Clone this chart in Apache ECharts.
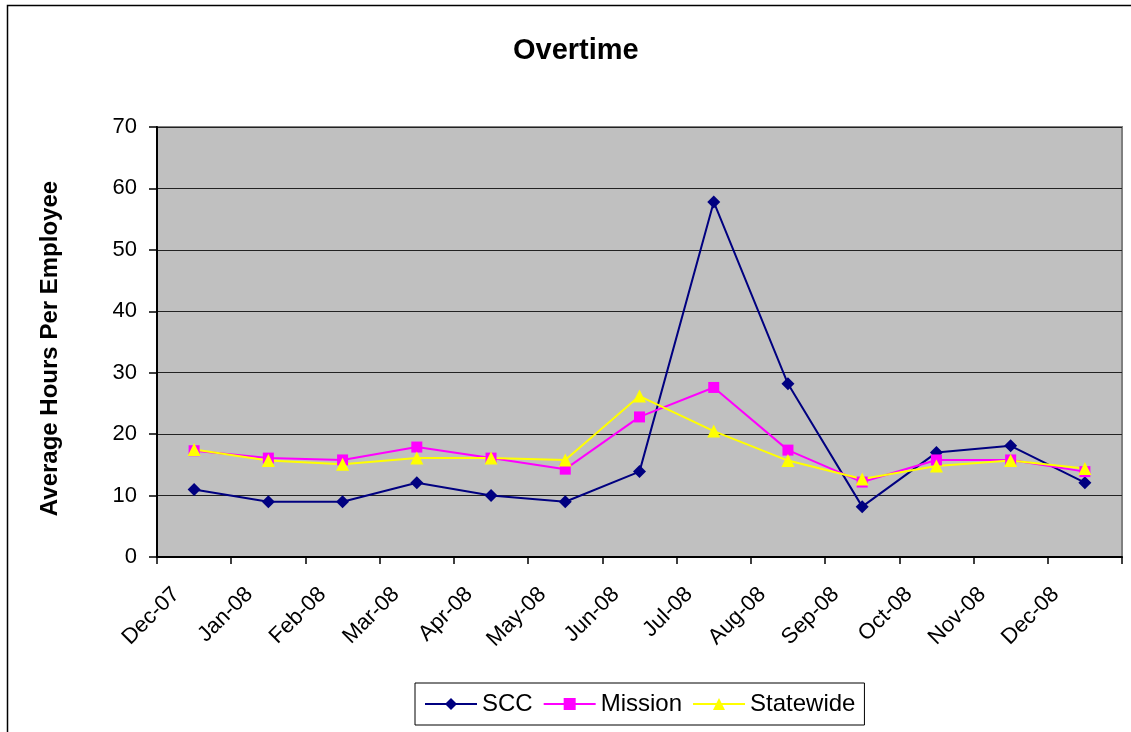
<!DOCTYPE html>
<html>
<head>
<meta charset="utf-8">
<script src="https://cdn.jsdelivr.net/npm/echarts@6/dist/echarts.min.js"></script>
<style>
html,body{margin:0;padding:0;background:#fff;}
#c{width:1131px;height:732px;}
</style>
</head>
<body>
<div id="c"></div>
<script>
const months = ['Dec-07','Jan-08','Feb-08','Mar-08','Apr-08','May-08','Jun-08','Jul-08','Aug-08','Sep-08','Oct-08','Nov-08','Dec-08'];
const tickLabels = ['Dec-07','Jan-08','Feb-08','Mar-08','Apr-08','May-08','Jun-08','Jul-08','Aug-08','Sep-08','Oct-08','Nov-08','Dec-08',''];
const scc = [11, 9, 9, 12.1, 10, 9, 13.9, 57.8, 28.2, 8.2, 17, 18.1, 12.1];
const mission = [17.3, 16.1, 15.8, 17.9, 16.1, 14.3, 22.8, 27.6, 17.4, 12.2, 15.8, 15.8, 13.9];
const statewide = [17.5, 15.7, 15.1, 16.1, 16.1, 15.8, 26.2, 20.5, 15.7, 12.7, 14.8, 15.7, 14.4];
const yTicks = {min: 0, max: 70, interval: 10};

const chart = echarts.init(document.getElementById('c'), null, {renderer: 'canvas'});
const font = 'Liberation Sans, Arial, sans-serif';
chart.setOption({
  backgroundColor: '#fff',
  animation: false,
  textStyle: {fontFamily: font},
  graphic: [{
    type: 'rect', shape: {x: 7.5, y: 5.5, width: 1140, height: 760},
    style: {fill: 'none', stroke: '#000', lineWidth: 1.5}, z: -1, silent: true
  }],
  title: {
    text: 'Overtime', left: 508, top: 31,
    textStyle: {fontFamily: font, fontSize: 29, fontWeight: 'bold', color: '#000'}
  },
  legend: {
    left: 415, top: 683, orient: 'horizontal',
    padding: [9, 9, 9, 9],
    borderColor: '#000', borderWidth: 1,
    itemWidth: 52, itemHeight: 15, itemGap: 10,
    textStyle: {fontFamily: font, fontSize: 24, color: '#000'},
    data: ['SCC', 'Mission', 'Statewide']
  },
  grid: [{
    left: 157, top: 127, right: 9, bottom: 175,
    show: true, backgroundColor: '#C0C0C0', borderColor: '#808080', borderWidth: 2
  }, {
    left: 176, top: 127, right: -10, bottom: 175, show: false
  }],
  xAxis: [{
    type: 'category', data: months, boundaryGap: true, gridIndex: 0,
    axisLine: {show: true, lineStyle: {color: '#000', width: 2}},
    axisTick: {show: true, length: 7, lineStyle: {color: '#000', width: 1.5}},
    axisLabel: {show: false},
    splitLine: {show: false}
  }, {
    type: 'category', data: tickLabels, boundaryGap: false, position: 'bottom', gridIndex: 1,
    axisLine: {show: false}, axisTick: {show: false}, splitLine: {show: false},
    axisLabel: {show: true, rotate: 45, interval: 0, margin: 34, fontFamily: font, fontSize: 22, color: '#000'}
  }],
  yAxis: [{
    type: 'value', min: yTicks.min, max: yTicks.max, interval: yTicks.interval, gridIndex: 0,
    name: 'Average Hours Per Employee', nameLocation: 'middle', nameGap: 95, nameRotate: 90,
    nameTextStyle: {fontFamily: font, fontSize: 24, fontWeight: 'bold', color: '#000', padding: [0, 13, 0, 0]},
    axisLine: {show: true, lineStyle: {color: '#000', width: 2}},
    axisTick: {show: true, length: 8, lineStyle: {color: '#000', width: 1.5}},
    axisLabel: {fontFamily: font, fontSize: 22, color: '#000', margin: 20},
    splitLine: {show: true, lineStyle: {color: '#222', width: 1.2}}
  }, {
    type: 'value', gridIndex: 1, min: yTicks.min, max: yTicks.max, show: false
  }],
  series: [{
    name: 'SCC', type: 'line', data: scc, xAxisIndex: 0, yAxisIndex: 0,
    symbol: 'diamond', symbolSize: 13,
    itemStyle: {color: '#000080'}, lineStyle: {color: '#000080', width: 2}
  }, {
    name: 'Mission', type: 'line', data: mission, xAxisIndex: 0, yAxisIndex: 0,
    symbol: 'rect', symbolSize: 11,
    itemStyle: {color: '#FF00FF'}, lineStyle: {color: '#FF00FF', width: 2}
  }, {
    name: 'Statewide', type: 'line', data: statewide, xAxisIndex: 0, yAxisIndex: 0,
    symbol: 'triangle', symbolSize: 13,
    itemStyle: {color: '#FFFF00'}, lineStyle: {color: '#FFFF00', width: 2}
  }]
});
</script>
</body>
</html>
